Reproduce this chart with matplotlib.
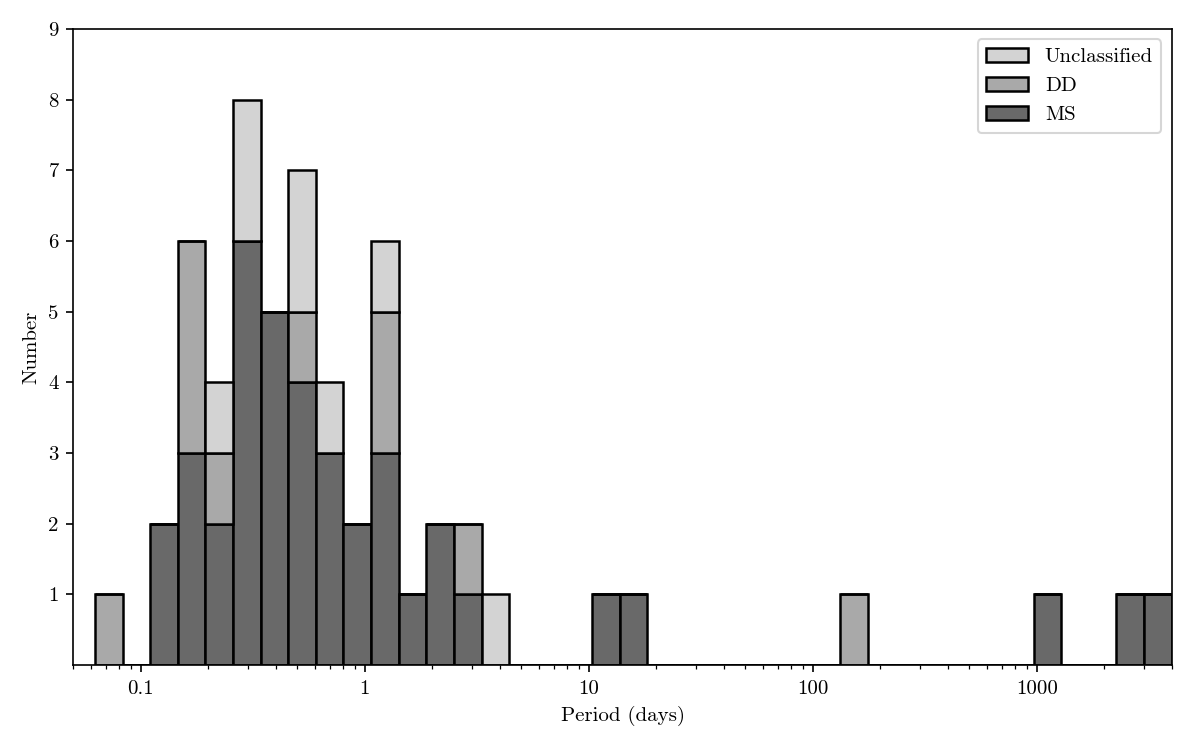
#!/usr/bin/env python
#
# Period distribution, stacked histogram on log-spaced bins.
#
import numpy as np
import matplotlib
matplotlib.use("Agg")
import matplotlib.pyplot as plt

plt.rcParams['font.family'] = 'serif'
plt.rcParams['font.serif'] = ['cmr10', 'DejaVu Serif']
plt.rcParams['mathtext.fontset'] = 'cm'
plt.rcParams['axes.unicode_minus'] = False

# Bin range (days) and number of log bins
P_min = 0.0625
P_max = 4000.0
n_bins = 39

# Counts per bin (bin 0 = shortest period)
ms_counts = [0, 0, 2, 3, 2, 6, 5, 4, 3, 2, 3, 1, 2, 1, 0, 0, 0, 0, 1, 1,
             0, 0, 0, 0, 0, 0, 0, 0, 0, 0, 0, 0, 0, 0, 1, 0, 0, 1, 1]
dd_counts = [1, 0, 0, 3, 1, 0, 0, 1, 0, 0, 2, 0, 0, 1, 0, 0, 0, 0, 0, 0,
             0, 0, 0, 0, 0, 0, 0, 1, 0, 0, 0, 0, 0, 0, 0, 0, 0, 0, 0]
uncl_counts = [0, 0, 0, 0, 1, 2, 0, 2, 1, 0, 1, 0, 0, 0, 1, 0, 0, 0, 0, 0,
               0, 0, 0, 0, 0, 0, 0, 0, 0, 0, 0, 0, 0, 0, 0, 0, 0, 0, 0]

labels = ["MS", "DD", "Unclassified"]
colors = ["dimgray", "darkgray", "lightgray"]

xticks = [0.1, 1, 10, 100, 1000]
xticklabels = ["0.1", "1", "10", "100", "1000"]
yticks = [1, 2, 3, 4, 5, 6, 7, 8, 9]

edges = np.logspace(np.log10(P_min), np.log10(P_max), n_bins + 1)
centers = np.sqrt(edges[:-1] * edges[1:])

fig = plt.figure(figsize=(8, 5), dpi=150)
ax = fig.add_axes([0.0611, 0.1133, 0.9153, 0.848])

ax.hist([centers, centers, centers], bins=edges,
        weights=[ms_counts, dd_counts, uncl_counts],
        stacked=True, histtype='bar', rwidth=1.0,
        color=colors, edgecolor='black', linewidth=1.2, label=labels)

ax.set_xscale('log')
ax.set_xlim(0.05, P_max)
ax.set_ylim(0, 9)
ax.set_xticks(xticks)
ax.set_xticklabels(xticklabels)
ax.set_yticks(yticks)
ax.set_xlabel("Period (days)")
ax.set_ylabel("Number")

handles, labs = ax.get_legend_handles_labels()
ax.legend(handles[::-1], labs[::-1], loc="upper right")

fig.savefig("out.png", dpi=150)
